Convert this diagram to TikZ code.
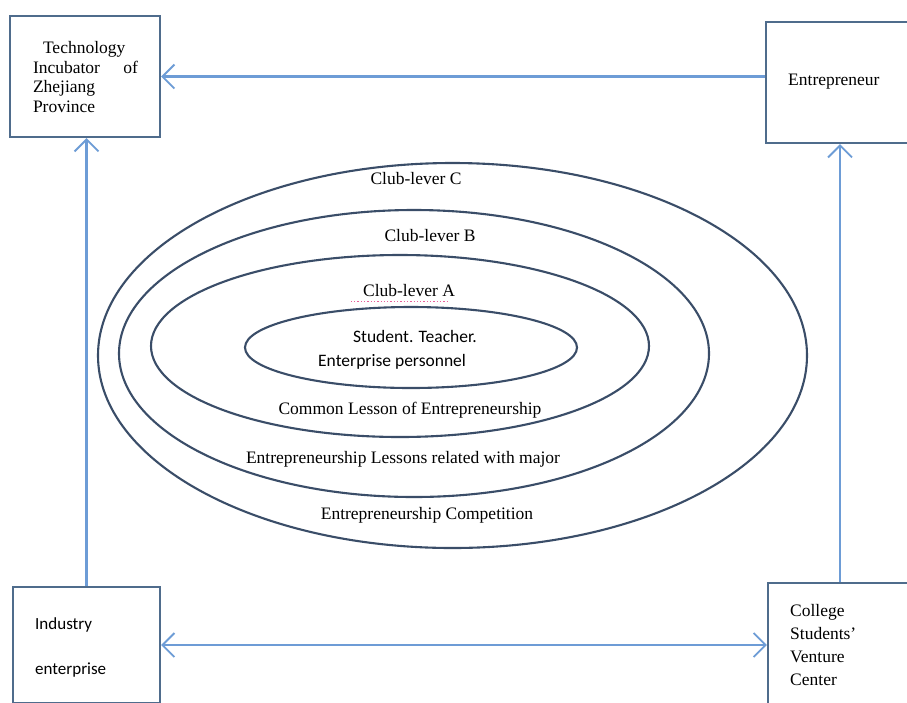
\documentclass[tikz,border=0pt]{standalone}
\usepackage{fontspec}
\setmainfont{Liberation Serif}
\newfontfamily\calfont{Carlito}
\usetikzlibrary{arrows.meta,shapes.geometric}
\definecolor{boxc}{HTML}{4F6C8C}
\definecolor{ellc}{HTML}{3A4D68}
\definecolor{conc}{HTML}{6D9CD6}
\definecolor{squig}{HTML}{E8609A}
\begin{document}
\begin{tikzpicture}[x=1pt,y=-1pt,
  box/.style={draw=boxc,line width=2.4pt,inner sep=0pt},
  ring/.style={draw=ellc,line width=2.1pt,ellipse,inner sep=0pt},
  conn/.style={draw=conc,line width=2.3pt,>={Straight Barb[length=12pt,width=24pt,line width=1.8pt]}},
  lbl/.style={font=\fontsize{17.5}{20}\selectfont,inner sep=0pt},
  sans/.style={font=\calfont\fontsize{17.5}{20}\selectfont,inner sep=0pt}]
\useasboundingbox (0,0) rectangle (907,702);
\clip (0,0) rectangle (907,702);
\fill[white] (0,0) rectangle (907,702);

% boxes
\node[box,minimum width=150pt,minimum height=121pt] (inc) at (85,76.5) {};
\node[box,minimum width=148pt,minimum height=121pt] (ent) at (840,82.5) {};
\node[box,minimum width=147pt,minimum height=116pt] (ind) at (86.5,645) {};
\node[box,minimum width=144pt,minimum height=124pt] (col) at (840,645) {};

% box texts
\node[lbl,font=\fontsize{17.5}{19.5}\selectfont,text width=105pt,align=left] (inct) at (85.5,77)
  {\hspace*{10pt}Technology\\Incubator\hfill of\\Zhejiang\\Province};
\node[lbl,anchor=west] (entt) at (788,82) {Entrepreneur};
\node[sans,font=\calfont\fontsize{17}{45}\selectfont,align=left,anchor=west] (indt) at (35,647) {Industry\\enterprise};
\node[lbl,font=\fontsize{17.5}{23.3}\selectfont,align=left,anchor=west] (colt) at (790,645) {College\\Students'\\Venture\\Center};

% rings
\node[ring,minimum width=709pt,minimum height=385pt] (rc) at (452.5,355.5) {};
\node[ring,minimum width=590pt,minimum height=287pt] (rb) at (414,353.5) {};
\node[ring,minimum width=498pt,minimum height=182pt] (ra) at (400,346) {};
\node[ring,minimum width=332pt,minimum height=81pt] (ri) at (411,347.5) {};

% ring labels
\node[lbl] (lc) at (416,179) {Club-lever C};
\node[lbl] (lb) at (430,236) {Club-lever B};
\node[lbl] (la) at (409,291) {Club-lever A};
\draw[squig,line width=1.3pt,dotted] (la.south west) ++(-12,4) coordinate (sq1) -- ++(96,0) coordinate (sq2);
\node[sans] (st1) at (415,336) {Student. Teacher.};
\node[sans,anchor=west] (st2) at (318,362) {Enterprise personnel};
\node[lbl] (l1) at (410,410) {Common Lesson of Entrepreneurship};
\node[lbl] (l2) at (403,459) {Entrepreneurship Lessons related with major};
\node[lbl] (l3) at (427,515) {Entrepreneurship Competition};

% connectors
\draw[conn,->] (inc.east -| ent.west) -- (inc.east);
\draw[conn,->] (ind.north) -- (ind.north |- inc.south);
\draw[conn,->] (col.north) -- (col.north |- ent.south);
\draw[conn,<->] (ind.east) -- (col.west);
\end{tikzpicture}
\end{document}
